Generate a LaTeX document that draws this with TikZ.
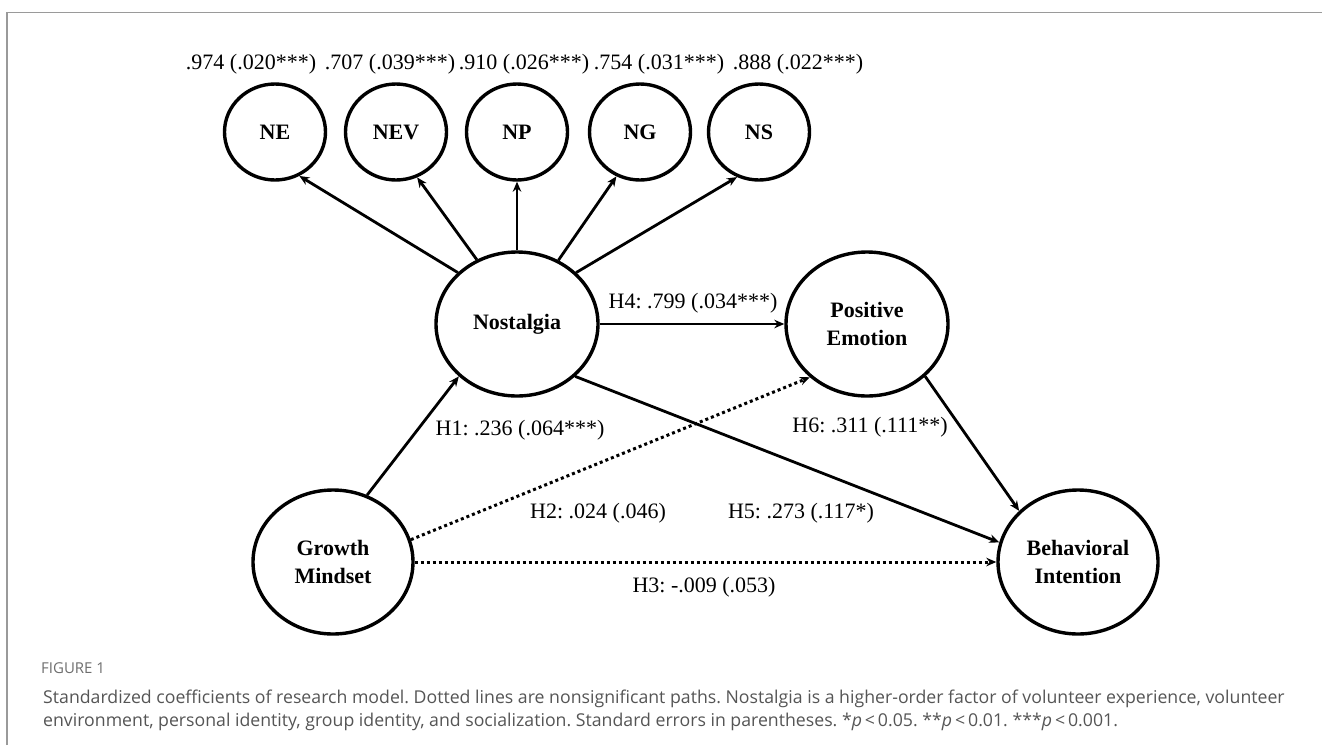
\documentclass[tikz,border=0pt]{standalone}
\usepackage{fontspec}
\setmainfont{Liberation Serif}
\newfontfamily\capfont{Open Sans}
\usetikzlibrary{shapes.geometric,arrows.meta}
\definecolor{framegray}{HTML}{9A9A9A}
\definecolor{capgray}{HTML}{555555}
\frenchspacing
\begin{document}
\begin{tikzpicture}[x=1pt,y=-1pt,
  lat/.style={ellipse,draw,line width=3.4pt,inner sep=0pt,align=center,
    font=\fontsize{22}{28}\selectfont\bfseries},
  ind/.style={lat,minimum width=101pt,minimum height=96pt},
  big/.style={lat,minimum width=162pt,minimum height=144pt},
  conn/.style={line width=2.8pt,-{Stealth[length=10pt,width=8.5pt]}},
  nsconn/.style={conn,line width=3pt,dash pattern=on 3pt off 3pt},
  lab/.style={font=\fontsize{22}{26}\selectfont,inner sep=0pt},
  captext/.style={anchor=west,inner sep=0pt,text=capgray,font=\capfont\fontsize{17.7}{21}\selectfont},
]
\useasboundingbox (0,0) rectangle (1322,745);
\draw[framegray,line width=1.5pt] (7,745) -- (7,12.5) -- (1322,12.5);

% indicator nodes
\node[ind] (ne)  at (275,132) {NE};
\node[ind] (nev) at (396,132) {NEV};
\node[ind] (np)  at (517,132) {NP};
\node[ind] (ng)  at (640,132) {NG};
\node[ind] (ns)  at (759,132) {NS};

% loadings
\node[lab] (lne)  at (251,64) {.974 (.020***)};
\node[lab] (lnev) at (390,64) {.707 (.039***)};
\node[lab] (lnp)  at (524,64) {.910 (.026***)};
\node[lab] (lng)  at (659,64) {.754 (.031***)};
\node[lab] (lns)  at (798,64) {.888 (.022***)};

% latent nodes
\node[big] (nos) at (517,324) {Nostalgia};
\node[big] (pe)  at (867,324) {Positive\\Emotion};
\node[big,minimum width=160pt] (gm)  at (333,562) {Growth\\Mindset};
\node[big,minimum width=160pt] (bi)  at (1078,562) {Behavioral\\Intention};

% loadings arrows
\draw[conn] (nos.139) -- (ne.-61);
\draw[conn] (nos.122) -- (nev.-65);
\draw[conn] (nos.north) -- (np.south);
\draw[conn] (nos.57) -- (ng.-118);
\draw[conn] (nos.41) -- (ns.-116);

% structural paths
\draw[conn] (gm.63) -- (nos.-138);
\draw[nsconn] (gm.16) -- (pe.-137);
\draw[nsconn] (gm.east) -- (bi.west);
\draw[conn] (nos.east) -- (pe.west);
\draw[conn] (nos.-42) -- (bi.166);
\draw[conn] (pe.-42) -- (bi.139);

% path labels
\node[lab] (lh1) at (520,430) {H1: .236 (.064***)};
\node[lab] (lh2) at (598,513) {H2: .024 (.046)};
\node[lab] (lh5) at (801,513) {H5: .273 (.117*)};
\node[lab] (lh3) at (704,587) {H3: -.009 (.053)};
\node[lab] (lh4) at (693,303) {H4: .799 (.034***)};
\node[lab] (lh6) at (870,427) {H6: .311 (.111**)};

% caption
\node[captext,font=\capfont\fontsize{15}{17}\selectfont,text=capgray!85] (fig) at (41,668) {FIGURE 1};
\node[captext] (cap1) at (43,699) {Standardized coefficients of research model. Dotted lines are nonsignificant paths. Nostalgia is a higher-order factor of volunteer experience, volunteer};
\node[captext] (cap2) at (43,722) {environment, personal identity, group identity, and socialization. Standard errors in parentheses. *\textit{p}\,<\,0.05. **\textit{p}\,<\,0.01. ***\textit{p}\,<\,0.001.};
\end{tikzpicture}
\end{document}
